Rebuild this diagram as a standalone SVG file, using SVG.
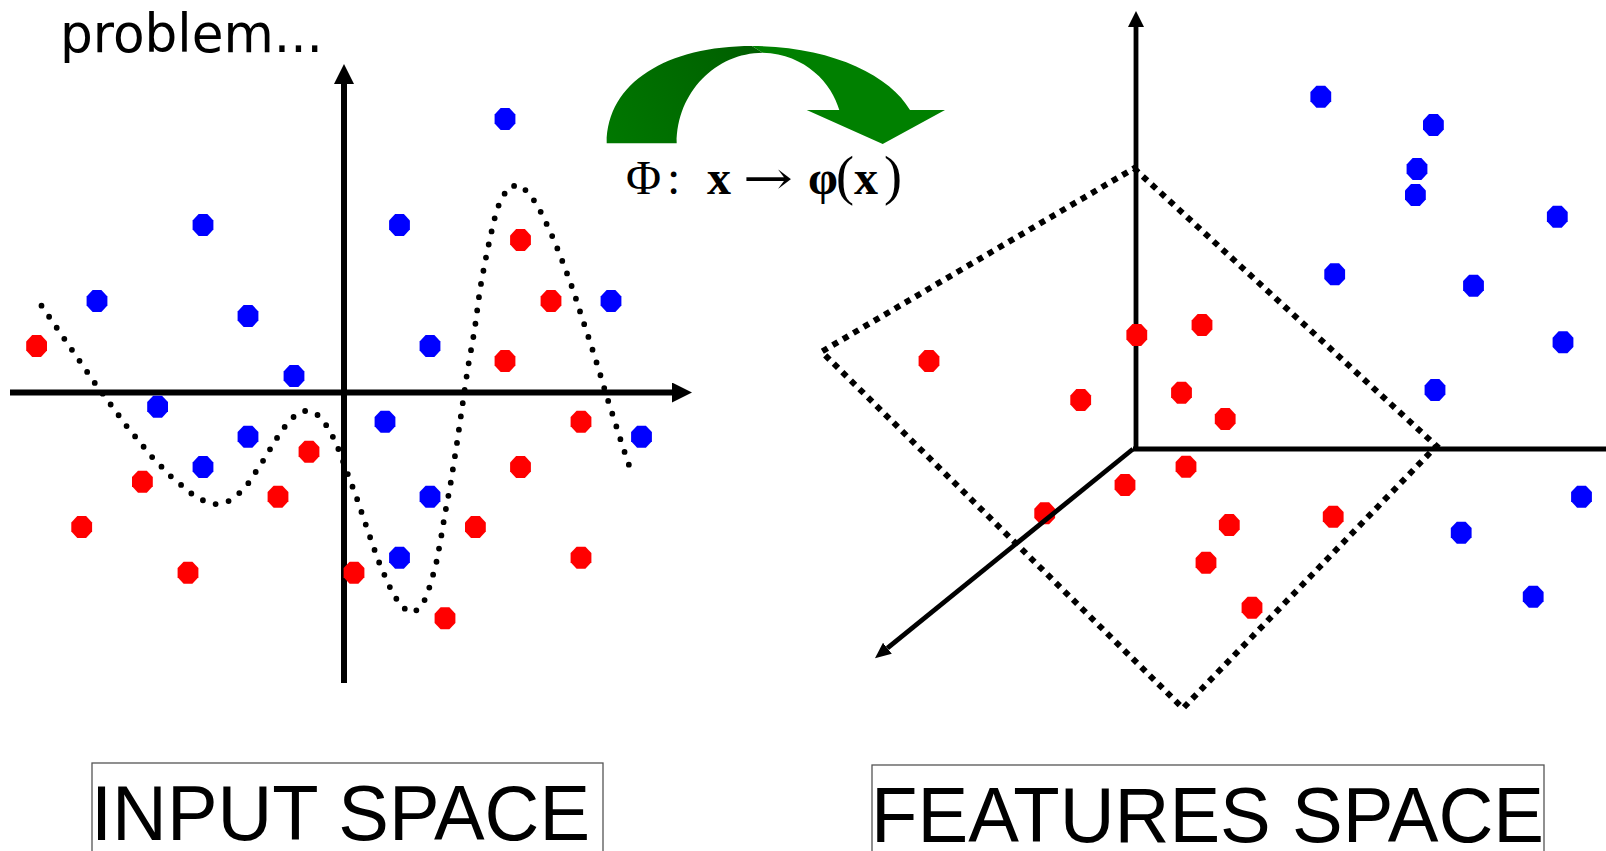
<svg xmlns="http://www.w3.org/2000/svg" xmlns:xlink="http://www.w3.org/1999/xlink" width="1606" height="851" viewBox="0 0 1606 851">
  <defs>
    <style>
      .r { fill: #ff0000; }
      .b { fill: #0000ff; }
      .axis { stroke: #000; fill: none; }
      .curve { fill: none; stroke: #000; stroke-width: 5.8; stroke-linecap: round; stroke-linejoin: round; stroke-dasharray: 0 13.4; }
      .plane { fill: none; stroke: #000; stroke-width: 6; stroke-dasharray: 6 6; }
      .lbl { font-family: "Liberation Sans", Arial, sans-serif; font-size: 78px; fill: #000; }
      .box { fill: none; stroke: #555; stroke-width: 1.3; }
      .fx { font-family: "Liberation Serif", "Times New Roman", serif; font-size: 48px; fill: #000; }
    </style>
    <polygon id="o" points="-4.4,-11 4.4,-11 10.4,-4.6 10.4,4.6 4.4,11 -4.4,11 -10.4,4.6 -10.4,-4.6"/>
    <marker id="ahL" markerUnits="userSpaceOnUse" markerWidth="20" markerHeight="20" viewBox="0 0 20 20" refX="0" refY="10" orient="auto">
      <path d="M0,0 L20,10 L0,20 Z" fill="#000"/>
    </marker>
    <marker id="ahR" markerUnits="userSpaceOnUse" markerWidth="16" markerHeight="16" viewBox="0 0 16 16" refX="0" refY="8" orient="auto">
      <path d="M0,0 L16,8 L0,16 Z" fill="#000"/>
    </marker>
    <marker id="ahD" markerUnits="userSpaceOnUse" markerWidth="16" markerHeight="14" viewBox="0 0 16 14" refX="0" refY="7" orient="auto">
      <path d="M0,0 L16,7 L0,14 Z" fill="#000"/>
    </marker>
    <linearGradient id="gL" gradientUnits="userSpaceOnUse" x1="607" y1="143" x2="760" y2="48">
      <stop offset="0" stop-color="#007800"/>
      <stop offset="1" stop-color="#005e00"/>
    </linearGradient>
  </defs>

  <rect x="0" y="0" width="1606" height="851" fill="#fff"/>

  <text id="title" x="60" y="52" font-family="'DejaVu Sans', Verdana, sans-serif" font-size="53" textLength="263" lengthAdjust="spacingAndGlyphs">problem...</text>

  <!-- Left input space -->
  <g id="input-axes">
    <line class="axis" x1="344" y1="683" x2="344" y2="84" stroke-width="6" marker-end="url(#ahL)"/>
    <line class="axis" x1="10" y1="392.5" x2="672" y2="392.5" stroke-width="6" marker-end="url(#ahL)"/>
  </g>

  <g id="input-points">
    <use href="#o" class="b" x="505" y="119"/>
    <use href="#o" class="b" x="203" y="225"/>
    <use href="#o" class="b" x="399.5" y="225"/>
    <use href="#o" class="b" x="97" y="301"/>
    <use href="#o" class="b" x="611" y="301"/>
    <use href="#o" class="b" x="248" y="316"/>
    <use href="#o" class="b" x="430" y="346"/>
    <use href="#o" class="b" x="294" y="376"/>
    <use href="#o" class="b" x="157.6" y="406.7"/>
    <use href="#o" class="b" x="385" y="421.7"/>
    <use href="#o" class="b" x="641.5" y="436.7"/>
    <use href="#o" class="b" x="248" y="436.7"/>
    <use href="#o" class="b" x="203" y="467"/>
    <use href="#o" class="b" x="430" y="496.7"/>
    <use href="#o" class="b" x="399.5" y="557.7"/>
    <use href="#o" class="r" x="520.5" y="240"/>
    <use href="#o" class="r" x="551" y="301"/>
    <use href="#o" class="r" x="36.6" y="346"/>
    <use href="#o" class="r" x="505" y="361"/>
    <use href="#o" class="r" x="581" y="421.7"/>
    <use href="#o" class="r" x="309" y="451.7"/>
    <use href="#o" class="r" x="520.5" y="467"/>
    <use href="#o" class="r" x="142.4" y="481.7"/>
    <use href="#o" class="r" x="278" y="496.7"/>
    <use href="#o" class="r" x="81.7" y="527"/>
    <use href="#o" class="r" x="475.4" y="527"/>
    <use href="#o" class="r" x="581" y="557.7"/>
    <use href="#o" class="r" x="188" y="572.7"/>
    <use href="#o" class="r" x="354" y="572.7"/>
    <use href="#o" class="r" x="445" y="618.3"/>
  </g>

  <g id="input-boundary">
    <polyline class="curve" points="41.5,305.7 94.6,382.7 126.3,425.7 151.8,456.7 170.5,476 191,493.3 202.2,500 214.7,504.3 227.7,501.7 238.4,494 247.8,484 262.5,461.7 276.3,439 284,427.7 292.4,417.7 303.6,410.7 316,413.3 325,423.3 331.7,434.3 337.5,446.7 346.9,471.7 356.3,496.7 369.2,534.7 378.1,560 388.4,584.3 394.6,596 401.8,607.3 413.8,612.7 422.8,604.3 428,592 435.7,566 440.6,540.3 445,513.7 450,487.3 456.3,447.7 462,408.3 467.9,367.7 474.6,330 480,289.3 484.8,263.3 490.2,237.3 496.4,211 501.3,199 509,186.7 520,185 530,194.3 537,205 543.3,216.7 554,240 564.3,266 573.7,291.7 581.7,316.7 590.2,342.3 598.2,367.7 606.3,395 613.8,418.3 621.9,444 630.4,469.3"/>
  </g>

  <!-- Mapping arrow -->
  <g id="mapping">
    <path d="M606.7,143.3 C606.7,82 668,46 752,46 L762.7,52.7 C716,53 676.7,92 676.7,143.3 Z" fill="url(#gL)"/>
    <path d="M752,46 C830,46 890,75 910,110 L945,110 L882.7,144 L806.7,110 L839.3,110 C832,84 806,54 762.7,52.7 Z" fill="#008000"/>
    <g class="fx">
      <text x="626" y="194">Φ</text>
      <text x="667" y="194">:</text>
      <text x="707" y="194" font-weight="bold">x</text>
      <text x="743" y="194" font-family="'DejaVu Serif', serif" font-size="46" textLength="50" lengthAdjust="spacingAndGlyphs">→</text>
      <text x="808" y="194" font-weight="bold">φ</text>
      <text x="836" y="194" font-size="54">(</text>
      <text x="854" y="194" font-weight="bold">x</text>
      <text x="884" y="194" font-size="54">)</text>
    </g>
  </g>

  <!-- Right features space -->
  <g id="feature-axes">
    <line class="axis" x1="1136" y1="449" x2="1136" y2="27" stroke-width="4.8" marker-end="url(#ahR)"/>
    <line class="axis" x1="1133" y1="449" x2="1606" y2="449" stroke-width="4.8"/>
  </g>

  <g id="feature-plane">
    <path class="plane" d="M1134,168.3 L1436.5,446 L1183,708.3 L821.6,351.7 Z"/>
  </g>

  <g id="feature-points">
    <use href="#o" class="b" x="1320.8" y="96.7"/>
    <use href="#o" class="b" x="1433.4" y="125"/>
    <use href="#o" class="b" x="1417" y="169"/>
    <use href="#o" class="b" x="1415.4" y="195"/>
    <use href="#o" class="b" x="1557.3" y="216.7"/>
    <use href="#o" class="b" x="1334.7" y="274.3"/>
    <use href="#o" class="b" x="1473.5" y="285.7"/>
    <use href="#o" class="b" x="1563" y="342.3"/>
    <use href="#o" class="b" x="1435" y="390"/>
    <use href="#o" class="b" x="1581.5" y="496.7"/>
    <use href="#o" class="b" x="1461.2" y="532.7"/>
    <use href="#o" class="b" x="1533.2" y="596.7"/>
    <use href="#o" class="r" x="929" y="361"/>
    <use href="#o" class="r" x="1136.8" y="335"/>
    <use href="#o" class="r" x="1202" y="325"/>
    <use href="#o" class="r" x="1080.7" y="400"/>
    <use href="#o" class="r" x="1181.5" y="392.7"/>
    <use href="#o" class="r" x="1225.2" y="419"/>
    <use href="#o" class="r" x="1186" y="466.7"/>
    <use href="#o" class="r" x="1125" y="485"/>
    <use href="#o" class="r" x="1044.7" y="513.3"/>
    <use href="#o" class="r" x="1229.3" y="525"/>
    <use href="#o" class="r" x="1333.2" y="516.7"/>
    <use href="#o" class="r" x="1206" y="562.7"/>
    <use href="#o" class="r" x="1252" y="607.7"/>
  </g>

  <g id="feature-depth-axis">
    <line class="axis" x1="1133" y1="449" x2="887.4" y2="648.2" stroke-width="4.8" marker-end="url(#ahD)"/>
  </g>

  <!-- Labels -->
  <g id="label-input">
    <rect class="box" x="92" y="763" width="511" height="120"/>
    <text class="lbl" x="91" y="839.5" textLength="499" lengthAdjust="spacingAndGlyphs">INPUT SPACE</text>
  </g>
  <g id="label-features">
    <rect class="box" x="872" y="765" width="672" height="120"/>
    <text class="lbl" x="871" y="841.5" textLength="673" lengthAdjust="spacingAndGlyphs">FEATURES SPACE</text>
  </g>
</svg>
